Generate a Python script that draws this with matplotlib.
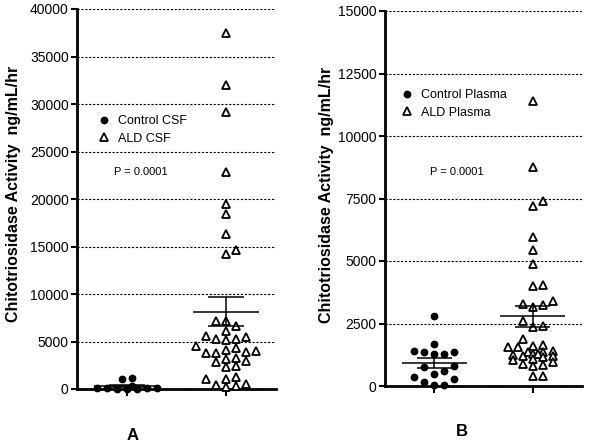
import numpy as np
import matplotlib
matplotlib.use("Agg")
import matplotlib.pyplot as plt
from matplotlib.lines import Line2D

plt.rcParams['font.family'] = ['Liberation Sans', 'DejaVu Sans']

# values (ng/mL/hr)
control_csf = [1150, 1100, 300, 120, 100, 80, 60, 50, 40, 30]
ald_csf = [37500, 32000, 29200, 22800, 19500, 18400, 16300, 14600, 14200,
           7200, 7200, 6600, 6100, 5600, 5300, 5200, 5300, 5500,
           4300, 4000, 3800, 3800, 3900, 4100, 4500,
           3200, 2800, 3000, 3300, 2300, 2400,
           1100, 1300, 1100, 400, 200, 300, 500]
control_plasma = [2800, 1700, 1400, 1350, 1300, 1300, 1350, 800, 750, 600,
                  500, 350, 300, 150, 50, 50]
ald_plasma = [11400, 8750, 7400, 7200, 5950, 5450, 4900, 4050, 4000,
              3400, 3300, 3250, 3150, 2600, 2400, 2350, 1900,
              1650, 1600, 1550, 1550, 1400, 1350, 1350, 1300, 1300, 1250,
              1200, 1200, 1150, 1100, 1050, 950, 900, 850, 800, 400, 400]

csf_ticks = list(range(0, 40001, 5000))
plasma_ticks = list(range(0, 15001, 2500))
csf_names = ['Control CSF', 'ALD CSF']
plasma_names = ['Control Plasma', 'ALD Plasma']
ylabel = 'Chitotriosidase Activity  ng/mL/hr'
p_text = 'P = 0.0001'

W, H = 600, 445
fig = plt.figure(figsize=(6, 4.45), dpi=100)


def swarm(values, px_y, px_x, maxw, w=10.0, h=8.0):
    # greedy beeswarm in pixel space, capped width (points may overlap like Prism)
    values = np.asarray(values, dtype=float)
    cands = [0.0]
    n = 1
    while n * w / 2 <= maxw + 0.01:
        cands += [n * w / 2, -n * w / 2]
        n += 1
    placed = []
    offs = np.zeros(len(values))
    for i in np.argsort(values):
        y = values[i] * px_y
        best, best_score = 0.0, -1
        for c in cands:
            score = min([max(abs(c - px) / w, abs(y - py) / h) for px, py in placed] or [9])
            if score >= 1:
                best = c
                break
            if score > best_score + 1e-6:
                best, best_score = c, score
        placed.append((best, y))
        offs[i] = best / px_x
    return offs


def panel(rect, ctrl, ald, ticks, widths):
    ax = fig.add_axes(rect)
    ymax = ticks[-1]
    ax.set_xlim(-0.5, 1.5)
    ax.set_ylim(0, ymax)
    px_y = rect[3] * H / ymax
    px_x = rect[2] * W / 2.0

    for i, vals in enumerate([ctrl, ald]):
        xs = i + swarm(vals, px_y, px_x, widths[i])
        if i == 0:
            ax.plot(xs, vals, 'o', color='black', ms=4.6, clip_on=False, zorder=4)
        else:
            ax.plot(xs, vals, '^', mfc='white', mec='black', mew=1.3, ms=5.4,
                    clip_on=False, zorder=4)
        m = np.mean(vals)
        sem = np.std(vals, ddof=1) / np.sqrt(len(vals))
        ax.hlines(m, i - 0.33, i + 0.33, color='black', lw=1.1, zorder=5)
        ax.vlines(i, m - sem, m + sem, color='black', lw=1.1, zorder=5)
        ax.hlines([m - sem, m + sem], i - 0.18, i + 0.18, color='black', lw=1.1, zorder=5)

    ax.set_yticks(ticks)
    ax.set_yticklabels([str(t) for t in ticks])
    ax.set_xticks([0, 1])
    ax.set_xticklabels(['', ''])
    ax.yaxis.grid(True, linestyle=(0, (2, 1.5)), color='black', lw=0.8)
    ax.set_axisbelow(True)
    for s in ['top', 'right']:
        ax.spines[s].set_visible(False)
    for s in ['left', 'bottom']:
        ax.spines[s].set_linewidth(2)
    ax.tick_params(axis='y', direction='out', length=4, width=1.5, labelsize=10, pad=2)
    ax.tick_params(axis='x', direction='out', length=5, width=1.5)

    handles = [Line2D([], [], ls='', marker='o', color='black', ms=4.6),
               Line2D([], [], ls='', marker='^', mfc='white', mec='black', mew=1.3, ms=5.4)]
    return ax, handles


axA, hA = panel([77 / W, 1 - 389 / H, 199 / W, 380 / H], control_csf, ald_csf, csf_ticks, (30, 30))
axB, hB = panel([385 / W, 1 - 386 / H, 197 / W, 375 / H], control_plasma, ald_plasma, plasma_ticks, (20, 25))

leg_kw = dict(loc='upper left', bbox_transform=fig.transFigure, frameon=False, fontsize=9,
              handlelength=0.8, handletextpad=0.7, labelspacing=0.45, borderpad=0,
              borderaxespad=0)
axA.legend(hA, csf_names, bbox_to_anchor=(99 / W, 1 - 115 / H), **leg_kw)
axB.legend(hB, plasma_names, bbox_to_anchor=(402 / W, 1 - 89 / H), **leg_kw)

fig.text(141 / W, 1 - 172 / H, p_text, ha='center', va='center', fontsize=8)
fig.text(457 / W, 1 - 172 / H, p_text, ha='center', va='center', fontsize=8)

fig.text(14 / W, 1 - 194 / H, ylabel, rotation=90, ha='center', va='center',
         fontsize=11.5, fontweight='bold')
fig.text(326 / W, 1 - 195 / H, ylabel, rotation=90, ha='center', va='center',
         fontsize=11.5, fontweight='bold')

fig.text(133 / W, 1 - 436 / H, 'A', ha='center', va='center', fontsize=12, fontweight='bold')
fig.text(462 / W, 1 - 432 / H, 'B', ha='center', va='center', fontsize=12, fontweight='bold')

fig.savefig('out.png', dpi=100)
